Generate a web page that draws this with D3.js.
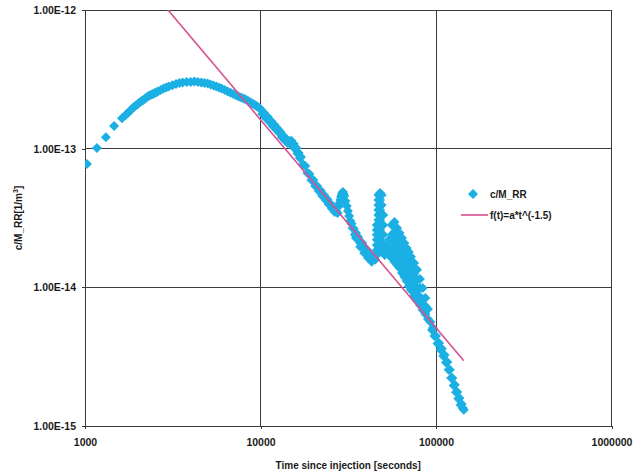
<!DOCTYPE html>
<html>
<head>
<meta charset="utf-8">
<script src="https://cdnjs.cloudflare.com/ajax/libs/d3/7.8.5/d3.min.js"></script>
<style>
  html, body { margin: 0; padding: 0; background: #fff; }
  svg { display: block; }
  text { font-family: "Liberation Sans", Arial, sans-serif; fill: #1a1a1a; font-weight: bold; }
</style>
</head>
<body>
<svg id="chart" width="641" height="475"></svg>
<script>
// ---- data ----
const timeSec = [
  1026, 1170, 1315, 1465, 1625,
  1700, 1750, 1800, 1850, 1900, 1950, 2000, 2050, 2100, 2150, 2200, 2250, 2300, 2350, 2400, 2450, 2500, 2550, 2600, 2700,
  2800, 2900, 3000, 3150, 3300, 3450, 3600, 3800, 4000, 4200, 4400, 4600,
  4800, 5000, 5200, 5400, 5600, 5800, 6000, 6250, 6500, 6750, 7000, 7250, 7500, 7750, 8000, 8250, 8500, 8750, 9000,
  9250, 9500, 9750, 10000, 10250, 10500, 10750, 11000, 11250, 11500, 11750, 12000, 12250, 12500, 12750, 13000,
  13250, 13500, 13750, 14000, 14250, 14500, 14750, 15000, 15250, 15500, 15750, 16000,
  16250, 16500, 16750, 17000, 17500, 18000, 18500, 19000, 19500, 20000, 20500, 21000, 21500, 22000, 22500, 23000,
  23500, 24000, 24500, 25000, 25500, 26000,
  26500, 27000, 27500, 28000, 28250, 28500, 28750, 29000, 29250, 29500, 29750, 30000, 30500, 31000,
  31500, 32000, 32500, 33000, 33500, 34000, 34500, 35000, 35500, 36000, 37000, 38000, 39000, 40000, 41000, 42000, 43000, 44000,
  35000, 37000, 39000, 41000, 43000,
  45000,
  46000, 46000, 46000, 46000, 46000, 46000, 46000,
  47000, 47000, 47000, 47000, 47000, 47000,
  48000, 48000, 48000, 48000, 48000, 48000, 48000,
  49000, 49000, 49000, 49000,
  50000, 50000, 50000, 50000,
  51000, 51000,
  52000,
  54000, 54000, 54000,
  56000, 56000, 56000, 56000,
  58000, 58000, 58000, 58000, 58000,
  60000, 60000, 60000, 60000, 60000,
  62000, 62000, 62000, 62000,
  64000, 64000, 64000, 64000,
  66000, 66000, 66000, 66000,
  68000, 68000, 68000, 68000,
  70000, 70000, 70000, 70000,
  72000, 72000, 72000, 72000,
  75000, 75000, 75000, 75000,
  78000, 78000, 78000, 78000,
  81000, 81000, 81000, 81000,
  84000, 84000, 84000,
  87000, 87000, 87000,
  90000, 90000,
  93000, 95000, 96000, 98000, 100000, 102000, 104000, 106000, 108000, 110000, 112000, 114000, 116000, 118000,
  120000, 122000, 124000, 126000, 128000, 130000, 132000, 134000, 136000, 138000, 140000, 142000, 144000
];
const cOverM = [
  7.76e-14, 1.01e-13, 1.21e-13, 1.46e-13, 1.66e-13,
  1.74e-13, 1.80e-13, 1.87e-13, 1.93e-13, 2.00e-13, 2.05e-13, 2.10e-13, 2.15e-13, 2.21e-13, 2.24e-13, 2.30e-13, 2.35e-13, 2.40e-13, 2.43e-13, 2.46e-13, 2.49e-13, 2.52e-13, 2.55e-13, 2.58e-13, 2.65e-13,
  2.72e-13, 2.76e-13, 2.81e-13, 2.87e-13, 2.93e-13, 2.97e-13, 3.00e-13, 3.03e-13, 3.03e-13, 3.05e-13, 3.03e-13, 3.00e-13,
  2.98e-13, 2.95e-13, 2.90e-13, 2.86e-13, 2.81e-13, 2.76e-13, 2.72e-13, 2.65e-13, 2.58e-13, 2.53e-13, 2.48e-13, 2.43e-13, 2.38e-13, 2.34e-13, 2.30e-13, 2.26e-13, 2.21e-13, 2.16e-13, 2.12e-13,
  2.07e-13, 2.03e-13, 1.98e-13, 1.93e-13, 1.78e-13, 1.81e-13, 1.66e-13, 1.69e-13, 1.56e-13, 1.58e-13, 1.46e-13, 1.49e-13, 1.38e-13, 1.40e-13, 1.30e-13, 1.32e-13,
  1.21e-13, 1.24e-13, 1.15e-13, 1.17e-13, 1.10e-13, 1.14e-13, 1.08e-13, 1.14e-13, 1.05e-13, 1.08e-13, 9.95e-14, 1.01e-13,
  9.24e-14, 9.31e-14, 8.57e-14, 8.71e-14, 7.69e-14, 7.51e-14, 6.68e-14, 6.57e-14, 5.95e-14, 5.95e-14, 5.38e-14, 5.38e-14, 4.95e-14, 5.00e-14, 4.56e-14, 4.64e-14,
  4.27e-14, 4.34e-14, 3.96e-14, 4.03e-14, 3.71e-14, 3.80e-14,
  3.50e-14, 3.55e-14, 3.44e-14, 3.86e-14, 4.06e-14, 4.27e-14, 4.48e-14, 4.64e-14, 4.79e-14, 4.87e-14, 4.71e-14, 4.56e-14, 4.20e-14, 3.86e-14,
  3.55e-14, 3.27e-14, 3.01e-14, 2.87e-14, 2.68e-14, 2.64e-14, 2.39e-14, 2.47e-14, 2.27e-14, 2.31e-14, 2.09e-14, 2.09e-14, 1.89e-14, 1.89e-14, 1.74e-14, 1.77e-14, 1.63e-14, 1.66e-14,
  2.27e-14, 1.96e-14, 1.77e-14, 1.63e-14, 1.53e-14,
  1.58e-14,
  1.71e-14, 1.86e-14, 2.02e-14, 2.20e-14, 2.39e-14, 2.59e-14, 2.82e-14,
  3.06e-14, 3.33e-14, 3.61e-14, 3.93e-14, 4.27e-14, 4.64e-14,
  4.79e-14, 4.27e-14, 3.61e-14, 3.06e-14, 2.59e-14, 2.20e-14, 1.86e-14,
  4.64e-14, 3.93e-14, 3.33e-14, 2.82e-14,
  3.33e-14, 2.82e-14, 2.39e-14, 2.02e-14,
  2.02e-14, 1.71e-14,
  1.86e-14,
  2.20e-14, 1.92e-14, 1.71e-14,
  2.82e-14, 2.39e-14, 1.96e-14, 1.63e-14,
  2.96e-14, 2.51e-14, 2.12e-14, 1.80e-14, 1.53e-14,
  2.68e-14, 2.27e-14, 1.86e-14, 1.63e-14, 1.45e-14,
  2.47e-14, 2.02e-14, 1.66e-14, 1.38e-14,
  2.27e-14, 1.86e-14, 1.53e-14, 1.27e-14,
  2.09e-14, 1.71e-14, 1.43e-14, 1.19e-14,
  1.92e-14, 1.60e-14, 1.34e-14, 1.11e-14,
  1.80e-14, 1.50e-14, 1.23e-14, 1.02e-14,
  1.66e-14, 1.38e-14, 1.15e-14, 9.58e-15,
  1.50e-14, 1.25e-14, 1.04e-14, 8.67e-15,
  1.34e-14, 1.13e-14, 9.42e-15, 7.98e-15,
  1.15e-14, 9.90e-15, 8.53e-15, 7.47e-15,
  9.90e-15, 8.25e-15, 6.87e-15,
  8.39e-15, 7.34e-15, 6.43e-15,
  6.99e-15, 5.92e-15,
  5.63e-15, 4.93e-15, 5.10e-15, 4.46e-15, 4.46e-15, 3.94e-15, 3.97e-15, 3.54e-15, 3.60e-15, 3.20e-15, 3.25e-15, 2.87e-15, 2.90e-15, 2.54e-15,
  2.54e-15, 2.22e-15, 2.22e-15, 1.96e-15, 1.98e-15, 1.75e-15, 1.76e-15, 1.57e-15, 1.59e-15, 1.42e-15, 1.44e-15, 1.35e-15, 1.31e-15
];
// power-law fit f(t) = a*t^(-1.5), end points
const fitTime = [1026, 144000];
const fitValue = [4.93e-12, 2.96e-15];

const xTicks = [1000, 10000, 100000, 1000000];
const xTickLabels = ["1000", "10000", "100000", "1000000"];
const yTicks = [1e-15, 1e-14, 1e-13, 1e-12];
const yTickLabels = ["1.00E-15", "1.00E-14", "1.00E-13", "1.00E-12"];
const seriesNames = ["c/M_RR", "f(t)=a*t^(-1.5)"];

// ---- layout ----
const plot = { left: 85, right: 611.5, top: 10, bottom: 426 };
const dotColor = "#1bb0e4";
const fitColor = "#d9508f";
const gridColor = "#3a3a3a";

const svg = d3.select("#chart");
const x = d3.scaleLog().domain([1000, 1000000]).range([plot.left, plot.right]);
const y = d3.scaleLog().domain([1e-15, 1e-12]).range([plot.bottom, plot.top]);

svg.append("defs").append("clipPath").attr("id", "clip")
  .append("rect").attr("x", plot.left).attr("y", plot.top)
  .attr("width", plot.right - plot.left).attr("height", plot.bottom - plot.top);

// gridlines
const grid = svg.append("g");
grid.selectAll("line.v").data(xTicks).join("line")
  .attr("x1", d => x(d)).attr("x2", d => x(d))
  .attr("y1", plot.top).attr("y2", plot.bottom)
  .attr("stroke", gridColor).attr("stroke-width", 1).attr("shape-rendering", "crispEdges");
grid.selectAll("line.h").data(yTicks).join("line")
  .attr("y1", d => y(d)).attr("y2", d => y(d))
  .attr("x1", plot.left).attr("x2", plot.right)
  .attr("stroke", gridColor).attr("stroke-width", 1).attr("shape-rendering", "crispEdges");

// axes
const xAxis = d3.axisBottom(x).tickValues(xTicks).tickSize(3).tickPadding(10)
  .tickFormat((d, i) => xTickLabels[i]);
const gx = svg.append("g").attr("transform", `translate(0,${plot.bottom})`).call(xAxis);
const yAxis = d3.axisLeft(y).tickValues(yTicks).tickSize(3).tickPadding(6)
  .tickFormat((d, i) => yTickLabels[i]);
const gy = svg.append("g").attr("transform", `translate(${plot.left},0)`).call(yAxis);
[gx, gy].forEach(g => {
  g.select(".domain").remove();
  g.selectAll(".tick line").attr("stroke", gridColor).attr("shape-rendering", "crispEdges");
  g.selectAll(".tick text").style("font-family", '"Liberation Sans", Arial, sans-serif')
    .style("font-size", "10.5px").style("font-weight", "bold").attr("fill", "#1a1a1a");
});

// scatter diamonds
const pts = timeSec.map((t, i) => ({ t, v: cOverM[i] }));
const r = 5;
const diamond = `M0,${-r}L${r},0L0,${r}L${-r},0Z`;
svg.append("g").attr("clip-path", "url(#clip)")
  .selectAll("path").data(pts).join("path")
  .attr("d", diamond)
  .attr("transform", d => `translate(${x(d.t)},${y(d.v)})`)
  .attr("fill", dotColor);

// fit line
const fitPts = fitTime.map((t, i) => ({ t, v: fitValue[i] }));
svg.append("path").attr("clip-path", "url(#clip)")
  .datum(fitPts)
  .attr("d", d3.line().x(d => x(d.t)).y(d => y(d.v)))
  .attr("fill", "none").attr("stroke", fitColor).attr("stroke-width", 1.6);

// axis titles
svg.append("text").attr("x", (plot.left + plot.right) / 2).attr("y", 469)
  .attr("text-anchor", "middle").style("font-size", "10px")
  .text("Time since injection [seconds]");
const yt = svg.append("text")
  .attr("transform", `translate(22,${(plot.top + plot.bottom) / 2}) rotate(-90)`)
  .attr("text-anchor", "middle").style("font-size", "10px");
yt.append("tspan").text("c/M_RR[1/m");
yt.append("tspan").attr("dy", -4).style("font-size", "7px").text("3");
yt.append("tspan").attr("dy", 4).text("]");

// legend
const lg = svg.append("g").attr("transform", "translate(461,194)");
lg.append("path").attr("d", diamond).attr("transform", "translate(12,0)").attr("fill", dotColor);
lg.append("text").attr("x", 29).attr("y", 3.5).style("font-size", "10px").text(seriesNames[0]);
lg.append("line").attr("x1", 0).attr("x2", 27).attr("y1", 21).attr("y2", 21)
  .attr("stroke", fitColor).attr("stroke-width", 1.6);
lg.append("text").attr("x", 29).attr("y", 24.5).style("font-size", "10px").text(seriesNames[1]);
</script>
</body>
</html>
